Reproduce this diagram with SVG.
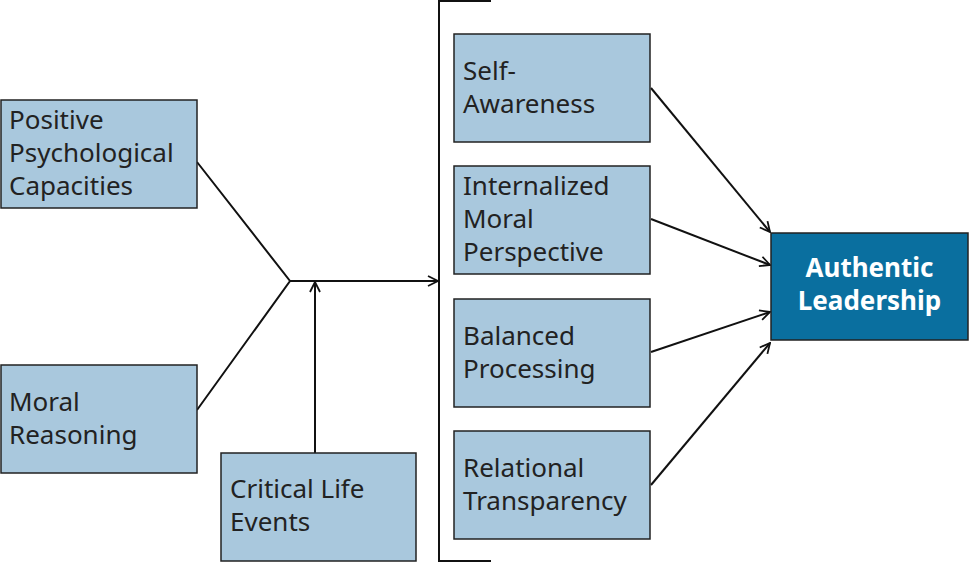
<svg xmlns="http://www.w3.org/2000/svg" width="969" height="563" viewBox="0 0 969 563">
<style>
.b{fill:#a9c8dd;stroke:#222;stroke-width:1.5}
.t{font-family:"Noto Sans","Open Sans",sans-serif;font-size:26px;fill:#222}
.w{font-family:"Noto Sans","Open Sans",sans-serif;font-size:26px;font-weight:bold;fill:#fff}
.c{fill:none;stroke:#111;stroke-width:2}
</style>
<defs><marker id="a" viewBox="0 0 12 12" refX="11" refY="6" markerWidth="12" markerHeight="12" markerUnits="userSpaceOnUse" orient="auto"><path d="M1,1 L11,6 L1,11" fill="none" stroke="#111" stroke-width="1.8"/></marker></defs>
<rect width="969" height="563" fill="#fff"/>
<g id="connectors">
<path class="c" d="M197,162 L290,281 L197,410"/>
<path class="c" d="M290,281 L438,281" marker-end="url(#a)"/>
<path class="c" d="M315,453 L315,282" marker-end="url(#a)"/>
<path class="c" d="M491,1 L439,1 L439,561 L491,561"/>
<path class="c" d="M651,88 L770,232" marker-end="url(#a)"/>
<path class="c" d="M651,219 L770,265" marker-end="url(#a)"/>
<path class="c" d="M651,352 L770,312" marker-end="url(#a)"/>
<path class="c" d="M651,485 L770,343" marker-end="url(#a)"/>
</g>
<g id="ppc"><rect class="b" x="1" y="100" width="196" height="108"/><text class="t" x="9" y="129">Positive</text><text class="t" x="9" y="162">Psychological</text><text class="t" x="9" y="195">Capacities</text></g>
<g id="mr"><rect class="b" x="1" y="365" width="196" height="108"/><text class="t" x="9" y="411">Moral</text><text class="t" x="9" y="444">Reasoning</text></g>
<g id="cle"><rect class="b" x="221" y="453" width="195" height="108"/><text class="t" x="230" y="498">Critical Life</text><text class="t" x="230" y="531">Events</text></g>
<g id="sa"><rect class="b" x="454" y="34" width="196" height="108"/><text class="t" x="463" y="80">Self-</text><text class="t" x="463" y="113">Awareness</text></g>
<g id="imp"><rect class="b" x="454" y="166" width="196" height="108"/><text class="t" x="463" y="195">Internalized</text><text class="t" x="463" y="228">Moral</text><text class="t" x="463" y="261">Perspective</text></g>
<g id="bp"><rect class="b" x="454" y="299" width="196" height="108"/><text class="t" x="463" y="345">Balanced</text><text class="t" x="463" y="378">Processing</text></g>
<g id="rt"><rect class="b" x="454" y="431" width="196" height="108"/><text class="t" x="463" y="477">Relational</text><text class="t" x="463" y="510">Transparency</text></g>
<g id="al"><rect x="771" y="233" width="197" height="107" fill="#0a6f9f" stroke="#222" stroke-width="1.5"/><text class="w" x="869.5" y="277" text-anchor="middle">Authentic</text><text class="w" x="869.5" y="310" text-anchor="middle">Leadership</text></g>
</svg>
